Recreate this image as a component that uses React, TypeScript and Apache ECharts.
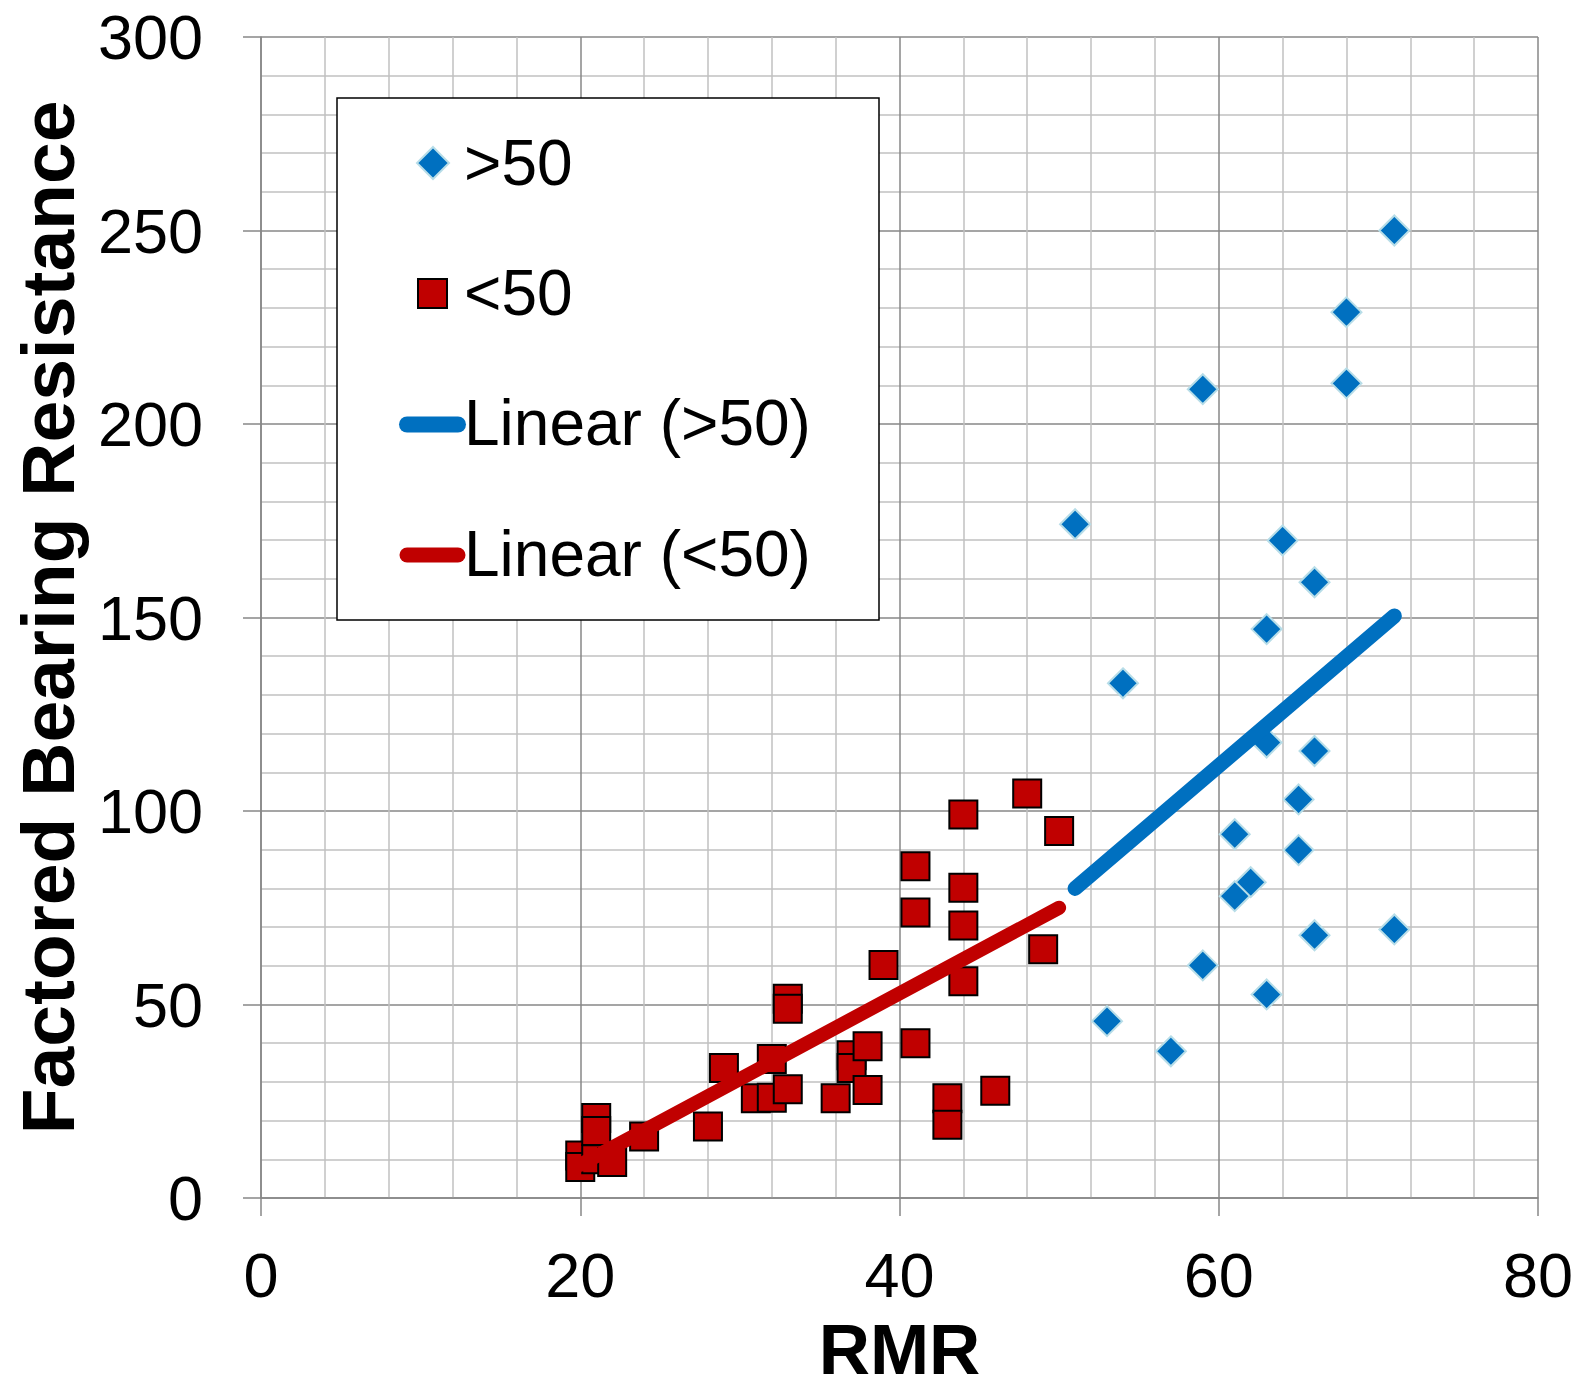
import React, { useEffect, useRef } from "react";
import * as echarts from "echarts";

// >50 series (RMR, Factored Bearing Resistance)
const highX = [71, 68, 68, 59, 51, 64, 66, 63, 54, 63, 66, 65, 61, 65, 62, 61, 66, 71, 59, 63, 53, 57];
const highY = [250, 228.9, 210.5, 209, 174.1, 169.9, 159.1, 147, 133, 117.7, 115.5, 103, 94, 89.9, 81.6, 78, 67.9, 69.4, 60.1, 52.6, 45.7, 37.9];

// <50 series
const lowX = [20, 20, 21, 21, 21, 22, 24, 28, 29, 31, 32, 32, 33, 33, 33, 36, 37, 37, 38, 38, 39, 41, 41, 41, 43, 43, 44, 44, 44, 44, 46, 48, 49, 50];
const lowY = [11, 8, 20.7, 17.3, 10, 9.3, 15.9, 18.5, 33.6, 25.8, 35.9, 25.9, 51.5, 48.9, 28.1, 25.8, 36.9, 33.6, 39.2, 27.9, 60.2, 85.7, 73.8, 40, 25.8, 18.9, 99.1, 80.2, 70.4, 56, 27.7, 104.5, 64.3, 94.8];

// Trendline end points
const trendHighX = [51, 71];
const trendHighY = [80, 150.4];
const trendLowX = [20, 50];
const trendLowY = [8.6, 75];

const xTicks = { min: 0, max: 80, interval: 20 };
const yTicks = { min: 0, max: 300, interval: 50 };

const legendNames = [">50", "<50", "Linear (>50)", "Linear (<50)"];

const FONT = "'Liberation Sans', Arial, sans-serif";
const BLUE = "#0070C0";
const RED = "#C00000";
const MAJOR = "#878787";
const MINOR = "#C0C0C0";

const zip = (xs: number[], ys: number[]) => xs.map((x, i) => [x, ys[i]]);

export default function App() {
  const ref = useRef<HTMLDivElement>(null);
  useEffect(() => {
    if (!ref.current) return;
    const chart = echarts.init(ref.current, null, { renderer: "svg" });
    const axisCommon = (extra: any) => ({
      type: "value",
      axisLine: { show: true, onZero: false, lineStyle: { color: MAJOR, width: 1.5 } },
      axisTick: { show: true, length: 18, lineStyle: { color: MAJOR, width: 1.5 } },
      minorTick: { show: false, splitNumber: 5 },
      splitLine: { show: true, lineStyle: { color: MAJOR, width: 1.5 } },
      minorSplitLine: { show: true, lineStyle: { color: MINOR, width: 1.5 } },
      ...extra,
    });
    const legendText = (text: string, y: number) => ({
      type: "text",
      x: 464,
      y,
      z: 101,
      style: { text, fill: "#000", fontSize: 64, fontFamily: FONT, align: "left", verticalAlign: "middle" },
    });
    chart.setOption({
      animation: false,
      backgroundColor: "#fff",
      grid: { left: 261, top: 37, width: 1277, height: 1161, containLabel: false, outerBoundsMode: "none" },
      xAxis: axisCommon({
        ...xTicks,
        name: "RMR",
        nameLocation: "middle",
        nameGap: 151,
        nameTextStyle: {
          fontSize: 71,
          lineHeight: 60,
          verticalAlign: "middle",
          fontWeight: "bold",
          color: "#000",
          fontFamily: FONT,
        },
        axisLabel: { fontSize: 63, color: "#000", margin: 45, fontFamily: FONT },
      }),
      yAxis: axisCommon({
        ...yTicks,
        name: "Factored Bearing Resistance",
        nameLocation: "middle",
        nameGap: 176,
        nameRotate: 90,
        nameTextStyle: { fontSize: 75, lineHeight: 75, fontWeight: "bold", color: "#000", fontFamily: FONT },
        axisLabel: { fontSize: 63, color: "#000", margin: 58, fontFamily: FONT },
      }),
      series: [
        {
          name: legendNames[0],
          type: "scatter",
          symbol: "diamond",
          symbolSize: 30,
          data: zip(highX, highY),
          itemStyle: { color: BLUE, borderColor: "#B7DDE8", borderWidth: 2, opacity: 1 },
          z: 2,
        },
        {
          name: legendNames[1],
          type: "scatter",
          symbol: "rect",
          symbolSize: 28,
          data: zip(lowX, lowY),
          itemStyle: { color: RED, borderColor: "#000", borderWidth: 2, opacity: 1 },
          z: 2,
        },
        {
          name: legendNames[2],
          type: "line",
          data: zip(trendHighX, trendHighY),
          showSymbol: false,
          lineStyle: { color: BLUE, width: 15, cap: "round" },
          z: 3,
        },
        {
          name: legendNames[3],
          type: "line",
          data: zip(trendLowX, trendLowY),
          showSymbol: false,
          lineStyle: { color: RED, width: 14, cap: "round" },
          z: 3,
        },
      ],
      graphic: [
        {
          type: "rect",
          z: 100,
          shape: { x: 337, y: 98, width: 542, height: 522 },
          style: { fill: "#fff", stroke: "#000", lineWidth: 1.5 },
        },
        {
          type: "polygon",
          z: 101,
          shape: { points: [[433, 147], [449, 163], [433, 179], [417, 163]] },
          style: { fill: BLUE, stroke: "#B7DDE8", lineWidth: 2 },
        },
        {
          type: "rect",
          z: 101,
          shape: { x: 418, y: 279, width: 29, height: 29 },
          style: { fill: RED, stroke: "#000", lineWidth: 2 },
        },
        {
          type: "line",
          z: 101,
          shape: { x1: 407, y1: 424.5, x2: 458, y2: 424.5 },
          style: { stroke: BLUE, lineWidth: 16, lineCap: "round" },
        },
        {
          type: "line",
          z: 101,
          shape: { x1: 407, y1: 555, x2: 458, y2: 555 },
          style: { stroke: RED, lineWidth: 15, lineCap: "round" },
        },
        legendText(legendNames[0], 163),
        legendText(legendNames[1], 293),
        legendText(legendNames[2], 423),
        legendText(legendNames[3], 554),
      ],
    });
    return () => chart.dispose();
  }, []);
  return <div ref={ref} style={{ position: "absolute", left: 0, top: 0, width: 1579, height: 1390 }} />;
}
